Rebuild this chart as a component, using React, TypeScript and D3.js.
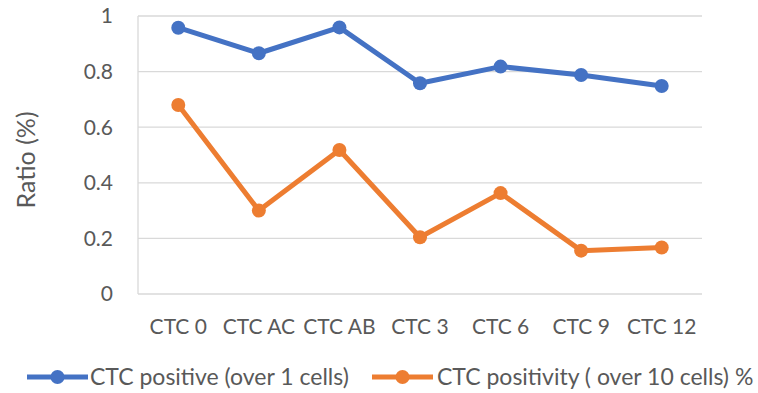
import React from "react";
import * as d3 from "d3";

const categories = ["CTC 0", "CTC AC", "CTC AB", "CTC 3", "CTC 6", "CTC 9", "CTC 12"];
const positiveOver1 = [0.958, 0.866, 0.959, 0.758, 0.818, 0.788, 0.748];
const positivityOver10 = [0.68, 0.3, 0.518, 0.204, 0.363, 0.156, 0.167];
const yTicks = [0, 0.2, 0.4, 0.6, 0.8, 1];
const seriesNames = ["CTC positive (over 1 cells)", "CTC positivity ( over 10 cells) %"];
const colors = ["#4472C4", "#ED7D31"];

const W = 758;
const H = 393;
const plot = { left: 138, right: 702, top: 16, bottom: 294 };
const font = "Lato, 'Open Sans', sans-serif";
const textColor = "#595959";

export default function App() {
  const x = d3.scaleBand<string>().domain(categories).range([plot.left, plot.right]);
  const y = d3.scaleLinear().domain([0, 1]).range([plot.bottom, plot.top]);
  const cx = (c: string) => (x(c) ?? 0) + x.bandwidth() / 2;
  const line = d3
    .line<number>()
    .x((_, i) => cx(categories[i]))
    .y((d) => y(d));
  const series = [positiveOver1, positivityOver10];

  const legend = [
    { x0: 27, tx: 90 },
    { x0: 372, tx: 437 },
  ];

  return (
    <svg
      width={W}
      height={H}
      style={{ position: "absolute", left: 0, top: 0, background: "#fff" }}
      fontFamily={font}
    >
      {yTicks.map((t) => (
        <g key={t}>
          <line
            x1={plot.left}
            x2={plot.right}
            y1={y(t)}
            y2={y(t)}
            stroke="#d9d9d9"
            strokeWidth={1.3}
          />
          <text
            x={113}
            y={y(t)}
            dy="0.35em"
            textAnchor="end"
            fontSize={21}
            fill={textColor}
          >
            {t === 0 || t === 1 ? String(t) : t.toFixed(1)}
          </text>
        </g>
      ))}
      <line
        x1={plot.left}
        x2={plot.left}
        y1={plot.top}
        y2={plot.bottom}
        stroke="#d9d9d9"
        strokeWidth={1.3}
      />
      {categories.map((c) => (
        <text
          key={c}
          x={cx(c)}
          y={327}
          dy="0.35em"
          textAnchor="middle"
          fontSize={21}
          fill={textColor}
        >
          {c}
        </text>
      ))}
      <text
        transform={`translate(26,160) rotate(-90)`}
        textAnchor="middle"
        dy="0.35em"
        fontSize={25}
        fill={textColor}
      >
        Ratio (%)
      </text>
      {series.map((vals, si) => (
        <g key={si}>
          <path
            d={line(vals) ?? ""}
            fill="none"
            stroke={colors[si]}
            strokeWidth={5}
            strokeLinejoin="round"
          />
          {vals.map((v, i) => (
            <circle key={i} cx={cx(categories[i])} cy={y(v)} r={7} fill={colors[si]} />
          ))}
        </g>
      ))}
      {legend.map((l, si) => (
        <g key={si}>
          <line x1={l.x0} x2={l.x0 + 61} y1={377} y2={377} stroke={colors[si]} strokeWidth={5} />
          <circle cx={l.x0 + 30.5} cy={377} r={7} fill={colors[si]} />
          <text x={l.tx} y={377} dy="0.35em" fontSize={23} fill={textColor}>
            {seriesNames[si]}
          </text>
        </g>
      ))}
    </svg>
  );
}
